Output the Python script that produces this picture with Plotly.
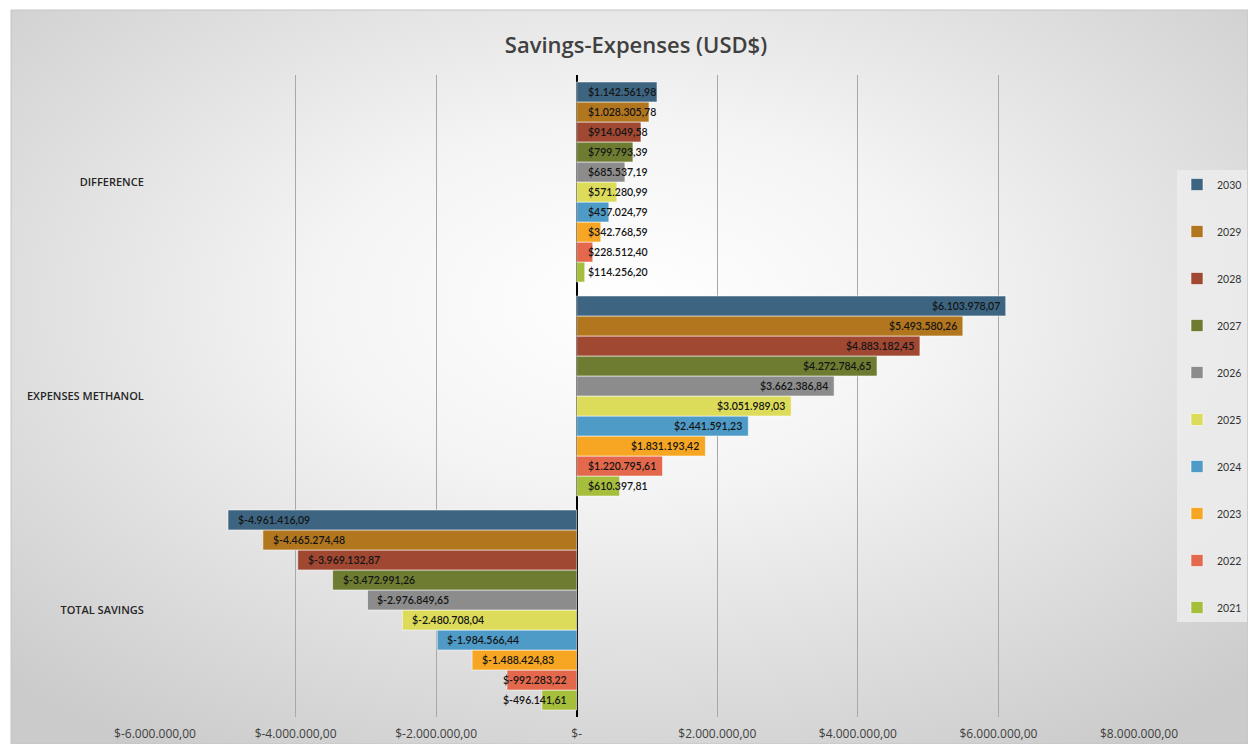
import base64
import plotly.graph_objects as go

# Chart data
categories = ["TOTAL SAVINGS", "EXPENSES METHANOL", "DIFFERENCE"]
years = ["2021", "2022", "2023", "2024", "2025", "2026", "2027", "2028", "2029", "2030"]

total_savings = [-496141.61, -992283.22, -1488424.83, -1984566.44, -2480708.04,
                 -2976849.65, -3472991.26, -3969132.87, -4465274.48, -4961416.09]
expenses_methanol = [610397.81, 1220795.61, 1831193.42, 2441591.23, 3051989.03,
                     3662386.84, 4272784.65, 4883182.45, 5493580.26, 6103978.07]
difference = [114256.20, 228512.40, 342768.59, 457024.79, 571280.99,
              685537.19, 799793.39, 914049.58, 1028305.78, 1142561.98]

tick_values = [-6e6, -4e6, -2e6, 0, 2e6, 4e6, 6e6, 8e6]

colors = ["#A5BE3C", "#E4684C", "#F6A623", "#4F9BC8", "#DCDC5A",
          "#8C8C8C", "#6E7C32", "#A04832", "#B2761E", "#3D6581"]

# Figure geometry
W, H = 1248, 744
ML, MR, MT, MB = 155, 109, 75, 27
PW, PH = W - ML - MR, H - MT - MB
BARGAP = 0.065
N = len(years)


def money(v):
    s = f"{abs(v):,.2f}".replace(",", "X").replace(".", ",").replace("X", ".")
    return "$-" + s if v < 0 else "$" + s


def tick_label(v):
    return "$-" if v == 0 else money(v)


series_by_cat = [total_savings, expenses_methanol, difference]

fig = go.Figure()
for i, yr in enumerate(years):
    vals = [series_by_cat[c][i] for c in range(len(categories))]
    fig.add_trace(go.Bar(
        y=categories, x=vals, name=yr, orientation="h",
        marker=dict(color=colors[i], line=dict(color="rgba(255,255,255,0.55)", width=1)),
        legendgroup=yr, legendrank=N - i, hoverinfo="x+name",
    ))

# Value labels: right at the bar tip when they fit, otherwise from the axis
annotations = []
slot = (1 - BARGAP) / N
fit_limit = 1.25e6
for c in range(len(categories)):
    for i in range(N):
        v = series_by_cat[c][i]
        ypos = c - (1 - BARGAP) / 2 + slot * (i + 0.5)
        if abs(v) >= fit_limit:
            x, anchor, shift = v, ("right" if v > 0 else "left"), (-4 if v > 0 else 8)
        else:
            x, anchor, shift = 0, ("left" if v > 0 else "right"), (9 if v > 0 else -8)
        annotations.append(dict(
            x=x, y=ypos, xref="x", yref="y", text=money(v), showarrow=False,
            xanchor=anchor, yanchor="middle", xshift=shift,
            font=dict(family="Lato, Open Sans, sans-serif", size=10.5, color="#141414", weight=600),
        ))

# Soft radial backdrop behind the whole chart
svg = (f'<svg xmlns="http://www.w3.org/2000/svg" width="{W}" height="{H}" '
       f'viewBox="0 0 {W} {H}" preserveAspectRatio="none"><defs>'
       '<radialGradient id="g" cx="50%" cy="40%" r="72%">'
       '<stop offset="0" stop-color="#ffffff"/><stop offset="0.35" stop-color="#f4f4f4"/>'
       '<stop offset="1" stop-color="#cbcbcb"/></radialGradient></defs>'
       f'<rect width="{W}" height="{H}" fill="url(#g)"/></svg>')
bg_src = "data:image/svg+xml;base64," + base64.b64encode(svg.encode()).decode()
left_px, top_px = 11, 10
bg = dict(source=bg_src, xref="paper", yref="paper",
          x=(left_px - ML) / PW, y=1 + (MT - top_px) / PH,
          sizex=(W - left_px) / PW, sizey=(H - top_px) / PH,
          xanchor="left", yanchor="top", sizing="stretch", layer="below")

fig.update_layout(
    width=W, height=H,
    margin=dict(l=ML, r=MR, t=MT, b=MB, autoexpand=False),
    paper_bgcolor="#ffffff", plot_bgcolor="rgba(0,0,0,0)",
    images=[bg],
    barmode="group", bargap=BARGAP, bargroupgap=0,
    title=dict(text="Savings-Expenses (USD$)", x=(636 - ML) / PW, xref="paper", xanchor="center",
               y=1 - 45 / H, yanchor="middle",
               font=dict(family="Open Sans, sans-serif", size=22, color="#404040", weight=600)),
    xaxis=dict(range=[-6e6, 8e6], tickvals=tick_values,
               ticktext=[tick_label(v) for v in tick_values],
               showgrid=True, gridcolor="#a8a8a8", gridwidth=1,
               zeroline=True, zerolinecolor="#000000", zerolinewidth=2,
               ticks="outside", ticklen=6, tickcolor="rgba(0,0,0,0)",
               tickfont=dict(family="Open Sans, sans-serif", size=12, color="#404040"),
               showline=False, fixedrange=True),
    yaxis=dict(categoryorder="array", categoryarray=categories, showgrid=False,
               tickfont=dict(family="Open Sans, sans-serif", size=11, color="#262626", weight=600),
               ticks="outside", ticklen=8, tickcolor="rgba(0,0,0,0)", showline=False),
    legend=dict(x=(1177 - ML) / PW, xanchor="left", y=1 - (170 - MT) / PH, yanchor="top",
                traceorder="grouped", tracegroupgap=28,
                bgcolor="rgba(236,236,236,0.85)", borderwidth=0,
                font=dict(family="Lato, Open Sans, sans-serif", size=10.5, color="#333333"),
                itemwidth=30),
    annotations=annotations,
    shapes=[dict(type="rect", xref="paper", yref="paper",
                 x0=(left_px - ML) / PW, x1=(W - ML) / PW,
                 y0=-MB / PH, y1=1 + (MT - top_px) / PH,
                 line=dict(color="#c4c4c4", width=1), layer="below")],
)

fig.write_html("out.html")
